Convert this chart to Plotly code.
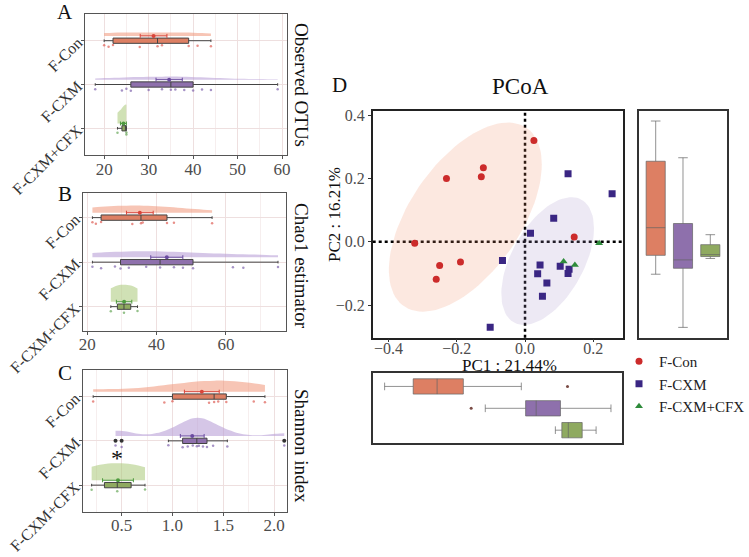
import numpy as np
import plotly.graph_objects as go

# ---------------- data ----------------
GROUPS = ["F-Con", "F-CXM", "F-CXM+CFX"]

otus_con = [20, 21, 22, 28, 32, 33, 39, 41, 44]
otus_cxm = [18, 24, 25, 26, 30, 33, 35, 36, 38, 40, 42, 44, 59]
otus_cfx = [23, 25, 25]

chao1_con = [21.5, 22.5, 24, 33, 35.5, 36, 43, 45, 56]
chao1_cxm = [21.5, 24, 28, 29.6, 32, 37, 41, 45, 47.6, 50.5, 62, 65, 75]
chao1_cfx = [26.8, 30.6, 34.5]

shannon_con = [0.22, 0.92, 1.0, 1.36, 1.41, 1.45, 1.53, 1.80, 1.91]
shannon_cxm = [0.44, 0.5, 0.96, 1.10, 1.15, 1.20, 1.24, 1.26, 1.30, 1.34, 1.40, 1.54, 2.10]
shannon_cfx = [0.205, 0.457, 0.73]

pc1_con = [0.026, -0.122, -0.128, -0.230, -0.323, -0.250, -0.189, -0.260, 0.144]
pc2_con = [0.320, 0.234, 0.205, 0.200, -0.005, -0.075, -0.064, -0.118, 0.015]
pc1_cxm = [0.126, 0.255, 0.084, 0.016, -0.066, 0.044, 0.037, 0.103, 0.129, 0.126, 0.064, 0.051, -0.102]
pc2_cxm = [0.215, 0.152, 0.074, 0.027, -0.059, -0.073, -0.101, -0.077, -0.087, -0.100, -0.130, -0.172, -0.270]
pc1_cfx = [0.113, 0.146, 0.217]
pc2_cfx = [-0.062, -0.073, -0.005]

PC1_LABEL = "PC1 : 21.44%"
PC2_LABEL = "PC2 : 16.21%"

# ---------------- styles ----------------
SERIF = "Liberation Serif, Times New Roman, serif"
BOX_FILL = ["#DD7F63", "#8E70AC", "#8FAA60"]
VIO_FILL = ["rgba(240,150,120,0.55)", "rgba(185,160,215,0.6)", "rgba(170,200,120,0.55)"]
PT_COL = ["#D9453A", "#6A4BA0", "#4E9A3E"]
MK_COL = ["#CC2B2B", "#3A2683", "#2E8B3B"]
MK_SYM = ["circle", "square", "triangle-up"]
ELL_FILL = ["rgba(240,140,100,0.2)", "rgba(165,145,200,0.2)"]

W, H = 749, 557


def dx(a, b):
    return [a / W, b / W]


def dy(top, bottom):
    return [1 - bottom / H, 1 - top / H]


fig = go.Figure()
POS = [3, 2, 1]


def raincloud(vals_list, xa, ya, vwidths):
    for gi, vals in enumerate(vals_list):
        pos = POS[gi]
        fig.add_trace(go.Violin(
            x=vals, y0=pos + 0.11, orientation="h", side="positive",
            width=vwidths[gi], spanmode="hard", scalemode="width",
            fillcolor=VIO_FILL[gi], line=dict(width=0), points=False,
            xaxis=xa, yaxis=ya, showlegend=False, hoverinfo="skip"))
        fig.add_trace(go.Box(
            x=vals, y0=pos, orientation="h", width=0.12, boxpoints="all",
            jitter=0.5, pointpos=-2.0, fillcolor="rgba(0,0,0,0)",
            line=dict(width=0, color="rgba(0,0,0,0)"),
            marker=dict(color=PT_COL[gi], size=2.5, opacity=0.6),
            xaxis=xa, yaxis=ya, showlegend=False, hoverinfo="skip"))
        fig.add_trace(go.Box(
            x=vals, y0=pos, orientation="h", width=0.12, boxpoints="outliers",
            quartilemethod="inclusive", fillcolor=BOX_FILL[gi],
            line=dict(color="#444444", width=1),
            marker=dict(color="#333333", size=4),
            xaxis=xa, yaxis=ya, showlegend=False, hoverinfo="skip"))
        v = np.asarray(vals, dtype=float)
        m = v.mean()
        se = v.std(ddof=1) / np.sqrt(len(v))
        fig.add_trace(go.Scatter(
            x=[m], y=[pos + 0.11], mode="markers",
            marker=dict(color=PT_COL[gi], size=4),
            error_x=dict(type="data", array=[se], color=PT_COL[gi], thickness=1, width=2),
            xaxis=xa, yaxis=ya, showlegend=False, hoverinfo="skip"))


raincloud([otus_con, otus_cxm, otus_cfx], "x", "y", [0.16, 0.14, 0.86])
raincloud([chao1_con, chao1_cxm, chao1_cfx], "x2", "y2", [0.32, 0.27, 0.77])
raincloud([shannon_con, shannon_cxm, shannon_cfx], "x3", "y3", [0.5, 0.82, 0.77])


# ---------------- PCoA ----------------
def cov_trob(X, nu=5, maxit=25, tol=0.01):
    n, p = X.shape
    loc = X.mean(axis=0)
    w = np.ones(n)
    for _ in range(maxit):
        w0 = w.copy()
        Xc = X - loc
        S = (Xc * (w / w.sum())[:, None]).T @ Xc
        Q = np.einsum("ij,jk,ik->i", Xc, np.linalg.inv(S), Xc)
        w = (nu + p) / (nu + Q)
        loc = (w[:, None] * X).sum(axis=0) / w.sum()
        if np.all(np.abs(w - w0) < tol):
            break
    Xc = X - loc
    cov = (Xc * w[:, None]).T @ Xc / n
    return loc, cov


def ellipse(xs, ys, level=0.95, npts=100):
    X = np.column_stack([xs, ys]).astype(float)
    n = len(X)
    d = n - 1
    fq = (d / 2.0) * ((1 - level) ** (-2.0 / d) - 1)
    radius = np.sqrt(2 * fq)
    center, shape = cov_trob(X)
    chol = np.linalg.cholesky(shape).T
    ang = np.linspace(0, 2 * np.pi, npts)
    circ = np.column_stack([np.cos(ang), np.sin(ang)])
    e = center + radius * circ @ chol
    return e[:, 0], e[:, 1]


ELL_LEVEL = 0.79
for gi, (px, py) in enumerate([(pc1_con, pc2_con), (pc1_cxm, pc2_cxm)]):
    ex, ey = ellipse(px, py, ELL_LEVEL)
    fig.add_trace(go.Scatter(x=ex, y=ey, mode="lines", fill="toself",
                             fillcolor=ELL_FILL[gi], line=dict(width=0),
                             xaxis="x4", yaxis="y4", showlegend=False, hoverinfo="skip"))

PC1 = [pc1_con, pc1_cxm, pc1_cfx]
PC2 = [pc2_con, pc2_cxm, pc2_cfx]
for gi in range(3):
    fig.add_trace(go.Scatter(x=PC1[gi], y=PC2[gi], mode="markers", name=GROUPS[gi],
                             marker=dict(color=MK_COL[gi], symbol=MK_SYM[gi], size=7),
                             xaxis="x4", yaxis="y4", showlegend=True))

# marginal boxes
for gi in range(3):
    fig.add_trace(go.Box(y=PC2[gi], x0=gi, width=0.7, quartilemethod="inclusive",
                         boxpoints="outliers", fillcolor=BOX_FILL[gi],
                         line=dict(color="rgba(100,100,100,0.7)", width=1),
                         marker=dict(color="#7A4B45", size=3),
                         xaxis="x5", yaxis="y5", showlegend=False))
    fig.add_trace(go.Box(x=PC1[gi], y0=2 - gi, orientation="h", width=0.7,
                         quartilemethod="inclusive",
                         boxpoints="outliers", fillcolor=BOX_FILL[gi],
                         line=dict(color="rgba(100,100,100,0.7)", width=1),
                         marker=dict(color="#7A4B45", size=3),
                         xaxis="x6", yaxis="y6", showlegend=False))


def padded(vals, f=0.05):
    a = np.concatenate([np.asarray(v, float) for v in vals])
    lo, hi = a.min(), a.max()
    s = hi - lo
    return [lo - f * s, hi + f * s]


fig.add_shape(type="line", x0=0, x1=0, y0=0, y1=1, xref="x4", yref="y4 domain",
              line=dict(color="black", width=2.5, dash="dot"), layer="below")
fig.add_shape(type="line", x0=0, x1=1, y0=0, y1=0, xref="x4 domain", yref="y4",
              line=dict(color="black", width=2.5, dash="dot"), layer="below")

# ---------------- axes ----------------
tickfont = dict(family=SERIF, size=17, color="#4D4D4D")
frame_left = dict(showline=True, mirror=True, linecolor="#555555", linewidth=1.3,
                  ticks="outside", ticklen=3, tickcolor="#555555", zeroline=False,
                  showgrid=True, gridcolor="#EEDFDF", gridwidth=1, automargin=False)

xa_common = dict(frame_left, tickfont=tickfont, ticklabelstandoff=-5)
ya_common = dict(frame_left, type="linear", tickvals=POS, ticktext=GROUPS, tickangle=-45,
                 tickfont=dict(family=SERIF, size=16, color="#333333"))
d_common = dict(tickformat=".1f", showline=True, mirror=True, linecolor="#222222", linewidth=1.5,
                ticks="outside", ticklen=3, tickcolor="#333333", showgrid=False, zeroline=False,
                tickfont=dict(family=SERIF, size=16, color="#4D4D4D"), automargin=False)
m_common = dict(showticklabels=False, ticks="", showline=True, mirror=True, linecolor="#333333",
                linewidth=1.5, showgrid=False, zeroline=False, automargin=False)

fig.update_layout(
    xaxis=dict(xa_common, domain=dx(85, 287), range=[15.7, 61.1], tickvals=[20, 30, 40, 50, 60],
               minor=dict(dtick=5, tick0=0, showgrid=True, gridcolor="#F6EEEE"), anchor="y"),
    yaxis=dict(ya_common, domain=dy(14, 155), range=[0.39, 3.61], anchor="x"),
    xaxis2=dict(xa_common, domain=dx(82.7, 286), range=[18.7, 77.3], tickvals=[20, 40, 60],
                minor=dict(dtick=10, tick0=0, showgrid=True, gridcolor="#F6EEEE"), anchor="y2"),
    yaxis2=dict(ya_common, domain=dy(192.7, 330.7), range=[0.46, 3.56], anchor="x2"),
    xaxis3=dict(xa_common, domain=dx(82.7, 287.3), range=[0.117, 2.13], tickvals=[0.5, 1.0, 1.5, 2.0],
                tickformat=".1f",
                minor=dict(dtick=0.25, tick0=0, showgrid=True, gridcolor="#F6EEEE"), anchor="y3"),
    yaxis3=dict(ya_common, domain=dy(370, 511.7), range=[0.40, 3.60], anchor="x3"),
    xaxis4=dict(d_common, domain=dx(372.7, 622.7), range=[-0.446, 0.286],
                tickvals=[-0.4, -0.2, 0.0, 0.2], ticklabelstandoff=-8, anchor="y4"),
    yaxis4=dict(d_common, domain=dy(110.7, 337.7), range=[-0.303, 0.414],
                tickvals=[-0.2, 0.0, 0.2, 0.4], anchor="x4"),
    xaxis5=dict(m_common, domain=dx(639.3, 726.7), range=[-0.6, 2.6], anchor="y5"),
    yaxis5=dict(m_common, domain=dy(110.7, 337.7), range=padded(PC2), anchor="x5"),
    xaxis6=dict(m_common, domain=dx(373.3, 622.3), range=padded(PC1), anchor="y6"),
    yaxis6=dict(m_common, domain=dy(373.3, 443.3), range=[-0.6, 2.6], anchor="x6"),
)


# ---------------- annotations ----------------
def ann(text, x, y, size, angle=0, xanchor="center", yanchor="middle", color="#111111"):
    fig.add_annotation(text=text, x=x / W, y=1 - y / H, xref="paper", yref="paper",
                       showarrow=False, textangle=angle, xanchor=xanchor, yanchor=yanchor,
                       font=dict(family=SERIF, size=size, color=color))


ann("A", 65, 12, 21)
ann("B", 65, 194, 21)
ann("C", 65, 373, 21)
ann("D", 339, 85, 21)
ann("Observed OTUs", 302, 85, 19, angle=90)
ann("Chao1 estimator", 302, 266, 19, angle=90)
ann("Shannon index", 302, 446, 19, angle=90)
ann("PCoA", 520, 86, 23)
ann(PC1_LABEL, 509, 365, 17)
ann(PC2_LABEL, 334, 215, 17, angle=-90)

fig.add_annotation(text="*", x=float(np.median(shannon_cfx)), y=1.62, xref="x3", yref="y3",
                   showarrow=False, font=dict(family=SERIF, size=24, color="#111111"))

fig.update_layout(
    width=W, height=H, autosize=False,
    margin=dict(l=0, r=0, t=0, b=0, autoexpand=False),
    paper_bgcolor="white", plot_bgcolor="white",
    boxmode="overlay", violinmode="overlay",
    legend=dict(x=619 / W, y=1 - 345 / H, xanchor="left", yanchor="top",
                font=dict(family=SERIF, size=15, color="#222222"),
                bgcolor="rgba(0,0,0,0)", itemwidth=30, tracegroupgap=0),
)

fig.write_html("out.html", config={"displayModeBar": False},
               post_script="document.body.style.margin='0px';")
